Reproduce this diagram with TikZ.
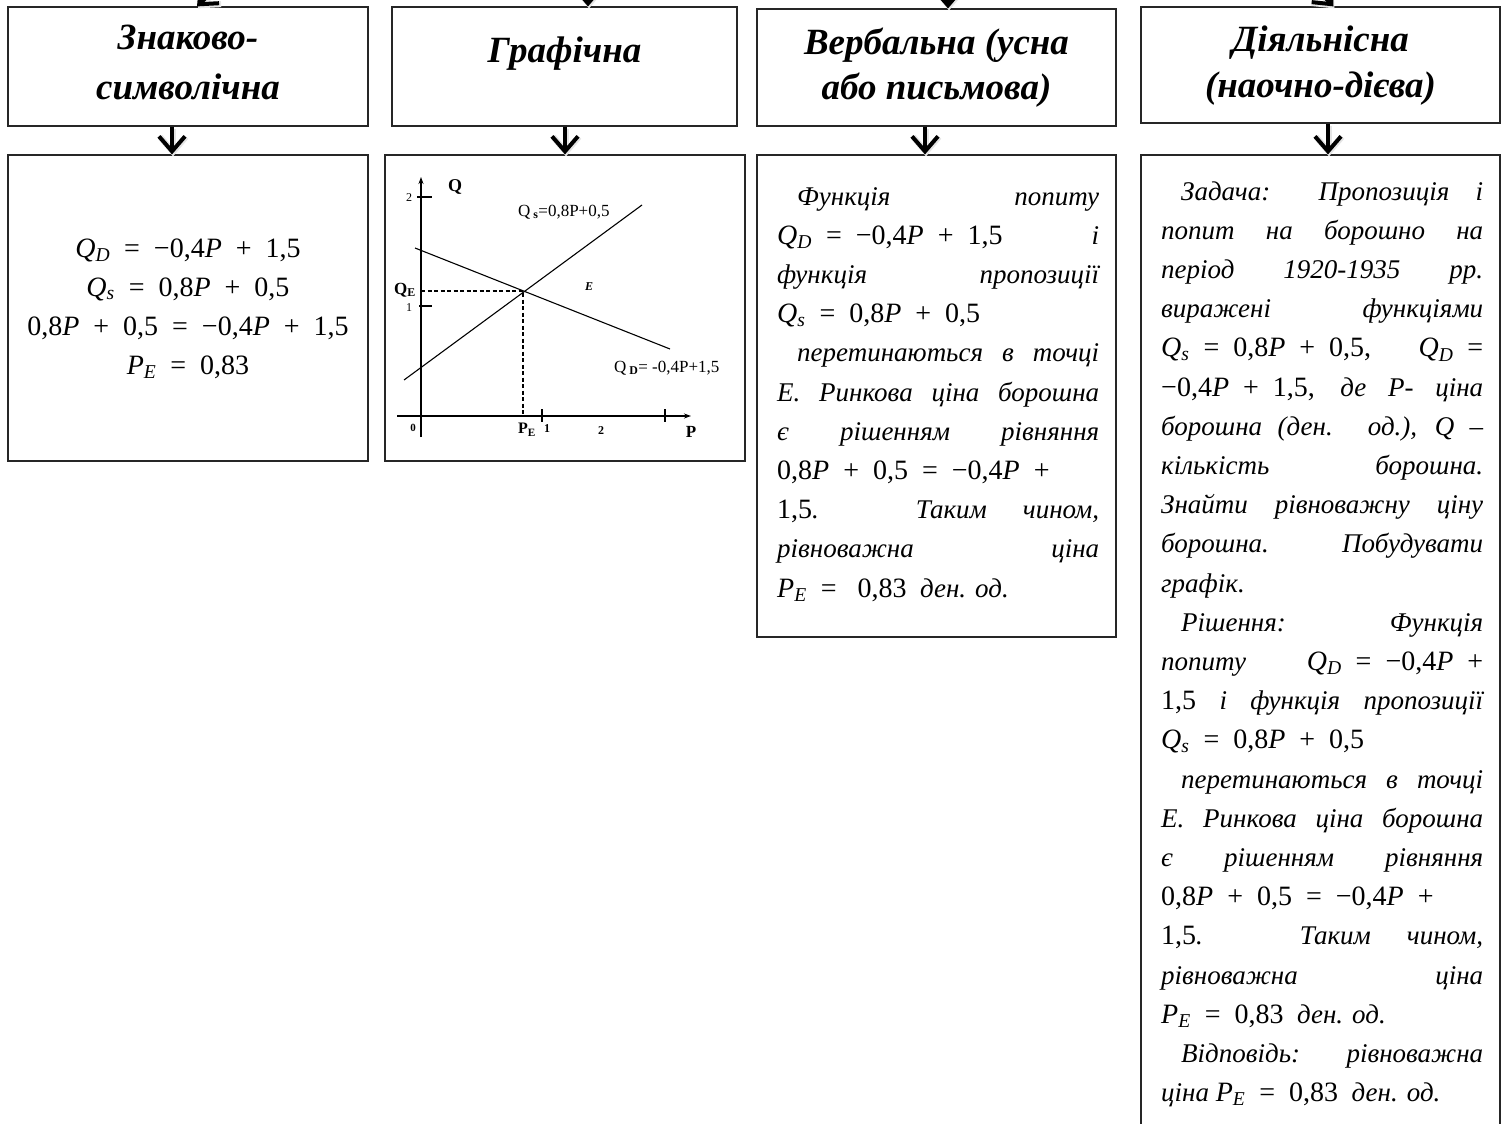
\documentclass[tikz,border=0pt]{standalone}
\usepackage{fontspec}
\setmainfont{Liberation Serif}
\usetikzlibrary{arrows.meta,calc}
\newcommand\LJ[1]{\hbox to\hsize{#1}}
\newcommand\LL[1]{\hbox to\hsize{#1\hfil}}
\newcommand\ID{\kern20pt\relax}
% math-like typesetting with the text font (Cambria-Math look)
\newcommand\mth[1]{{\fontsize{28pt}{39.2pt}\selectfont\upshape #1}}
\newcommand\mq[1]{\textit{#1}}
\newcommand\msub[1]{\textsubscript{\itshape #1}}
\newcommand\EQ{\hspace{0.5em}=\hspace{0.5em}}
\newcommand\EQR{\hspace{0.5em}=}
\newcommand\PL{\hspace{0.5em}+\hspace{0.5em}}
\newcommand\PLR{\hspace{0.5em}+}
\begin{document}
\begin{tikzpicture}[x=1pt,y=-1pt,
  box/.style={draw=black!85, line width=1.2pt, inner sep=0pt, rectangle},
  ttl/.style={inner sep=0pt, anchor=base, font=\fontsize{37pt}{#1}\selectfont\bfseries\itshape},
  ttl/.default=47pt,
  txt/.style={inner sep=0pt, anchor=base west, font=\fontsize{27pt}{39.2pt}\selectfont\itshape},
  arr/.style={line width=4pt, -{Straight Barb[length=15pt,width=26pt]},
    preaction={draw=black!10, line width=6pt, transform canvas={shift={(1pt,-2pt)}}}},
  gl/.style={line width=1.1pt},
  gt/.style={inner sep=0pt, font=\fontsize{#1}{#1}\selectfont},
  gt/.default=12pt
]
\useasboundingbox (0,0) rectangle (1510,1124);
\clip (0,0) rectangle (1510,1124);

% ---------- head boxes ----------
\node[box, minimum width=360pt, minimum height=119pt] (h1) at (188,66.5) {};
\node[box, minimum width=345pt, minimum height=119pt] (h2) at (564.5,66.5) {};
\node[box, minimum width=359pt, minimum height=117pt] (h3) at (936.5,67.5) {};
\node[box, minimum width=359pt, minimum height=116pt] (h4) at (1320.5,65) {};

\node[ttl=50pt] (h1t) at (188,50) {\parbox[t]{350pt}{\centering Знаково-\\символічна}};
\node[ttl] (h2t) at (564.5,63) {Графічна};
\node[ttl=45pt] (h3t) at (936.5,55) {\parbox[t]{350pt}{\centering Вербальна (усна\\або письмова)}};
\node[ttl=46pt] (h4t) at (1320.5,52) {\parbox[t]{350pt}{\centering Діяльнісна\\(наочно-дієва)}};

% ---------- content boxes ----------
\node[box, minimum width=360pt, minimum height=306pt] (b1) at (188,308) {};
\node[box, minimum width=360pt, minimum height=306pt] (b2) at (565,308) {};
\node[box, minimum width=359pt, minimum height=482pt] (b3) at (936.5,396) {};
\node[box, minimum width=359pt, minimum height=1000pt] (b4) at (1320.5,655) {};

% ---------- arrows between boxes ----------
\coordinate (a1s) at ([xshift=-16pt]h1.south);
\coordinate (a1e) at (a1s |- b1.north);
\coordinate (a2s) at ([xshift=0.5pt]h2.south);
\coordinate (a2e) at (a2s |- b2.north);
\coordinate (a3s) at ([xshift=-11.5pt]h3.south);
\coordinate (a3e) at (a3s |- b3.north);
\coordinate (a4s) at ([xshift=7.5pt]h4.south);
\coordinate (a4e) at (a4s |- b4.north);
\draw[arr] (a1s) -- (a1e);
\draw[arr] (a2s) -- (a2e);
\draw[arr] (a3s) -- (a3e);
\draw[arr] (a4s) -- (a4e);

% ---------- incoming arrows from above ----------
\coordinate (src1) at (245,-40);
\coordinate (src2) at (588,-40);
\coordinate (src3) at (948,-40);
\coordinate (src4) at (1290,-40);
\coordinate (in1) at ([xshift=9pt]h1.north);
\coordinate (in2) at ([xshift=23.5pt]h2.north);
\coordinate (in3) at ([xshift=11.5pt]h3.north);
\coordinate (in4) at ([xshift=13pt]h4.north);
\draw[arr] (src1) -- (in1);
\draw[arr] (src2) -- (in2);
\draw[arr] (src3) -- (in3);
\draw[arr] (src4) -- (in4);

% ---------- box 1: formulas ----------
\node[txt, anchor=base] (t1) at (188,257) {\parbox[t]{350pt}{\centering
\mth{\mq{Q}\msub{D}\EQ −0,4\mq{P}\PL 1,5}\\
\mth{\mq{Q}\msub{s}\EQ 0,8\mq{P}\PL 0,5}\\
\mth{0,8\mq{P}\PL 0,5\EQ −0,4\mq{P}\PL 1,5}\\
\mth{\mq{P}\msub{E}\EQ 0,83}}};

% ---------- box 2: graph ----------
\draw[gl, -{Stealth[length=7pt,width=5pt]}] (421,437) -- (421,177);
\draw[gl, -{Stealth[length=7pt,width=5pt]}] (397,416) -- (691,416);
\draw[gl] (417,197) -- (432,197);
\draw[gl] (419,306) -- (432,306);
\draw[gl] (542,409) -- (542,422);
\draw[gl] (665,409) -- (665,422);
\draw[gl] (404,380) -- (642,205);
\draw[gl] (415,248) -- (670,349);
\draw[gl, dash pattern=on 4pt off 2.5pt] (421,291) -- (523,291) -- (523,416);
\node[gt=12pt] (g2) at (409,198) {2};
\node[gt=12pt] (g1) at (409,308) {1};
\node[gt=18pt] (gq) at (455,187) {\textbf{Q}};
\node[gt=17pt, anchor=west] (gqe) at (394,290) {\textbf{Q}\textsubscript{\textbf{E}}};
\node[gt=12pt] (ge) at (589,287) {\textbf{\textit{E}}};
\node[gt=17pt, anchor=west] (gqs) at (518,212) {Q\,\textsubscript{\textbf{s}}=0,8P+0,5};
\node[gt=17pt, anchor=west] (gqd) at (614,368) {Q\,\textsubscript{\textbf{D}}= -0,4P+1,5};
\node[gt=11pt] (g0) at (413,428) {\textbf{0}};
\node[gt=16pt] (gpe) at (527,430) {\textbf{P}\textsubscript{\textbf{E}}};
\node[gt=12pt] (gx1) at (547,429) {\textbf{1}};
\node[gt=12pt] (gx2) at (601,431) {\textbf{2}};
\node[gt=17pt] (gp) at (691,432) {\textbf{P}};

% ---------- box 3: verbal ----------
\node[txt] (t3) at (777,205) {\parbox[t]{322pt}{%
\LJ{\ID Функція попиту}
\LJ{\mth{\mq{Q}\msub{D}\EQ −0,4\mq{P}\PL 1,5} і}
\LJ{функція пропозиції}
\LL{\mth{\mq{Q}\msub{s}\EQ 0,8\mq{P}\PL 0,5}}
\LJ{\ID перетинаються в точці}
\LJ{Е. Ринкова ціна борошна}
\LJ{є рішенням рівняння}
\LL{\mth{0,8\mq{P}\PL 0,5\EQ −0,4\mq{P}\PLR}}
\LJ{\mth{1,5}. Таким чином,}
\LJ{рівноважна ціна}
\LL{\mth{\mq{P}\msub{E}\EQ\hspace{0.25em}0,83}\enspace ден. од.}
}};

% ---------- box 4: activity ----------
\node[txt] (t4) at (1161,200) {\parbox[t]{322pt}{%
\LJ{\ID Задача: Пропозиція і}
\LJ{попит на борошно на}
\LJ{період 1920-1935 рр.}
\LJ{виражені функціями}
\LJ{\mth{\mq{Q}\msub{s}\EQ 0,8\mq{P}\PL 0,5,} \mth{\mq{Q}\msub{D}\EQR}}
\LJ{\mth{−0,4\mq{P}\PL 1,5,} де P- ціна}
\LJ{борошна (ден. од.), Q –}
\LJ{кількість борошна.}
\LJ{Знайти рівноважну ціну}
\LJ{борошна. Побудувати}
\LL{графік.}
\LJ{\ID Рішення: Функція}
\LJ{попиту \mth{\mq{Q}\msub{D}\EQ −0,4\mq{P}\PLR}}
\LJ{\mth{1,5} і функція пропозиції}
\LL{\mth{\mq{Q}\msub{s}\EQ 0,8\mq{P}\PL 0,5}}
\LJ{\ID перетинаються в точці}
\LJ{Е. Ринкова ціна борошна}
\LJ{є рішенням рівняння}
\LL{\mth{0,8\mq{P}\PL 0,5\EQ −0,4\mq{P}\PLR}}
\LJ{\mth{1,5}. Таким чином,}
\LJ{рівноважна ціна}
\LL{\mth{\mq{P}\msub{E}\EQ 0,83}\enspace ден. од.}
\LJ{\ID Відповідь: рівноважна}
\LL{ціна \mth{\mq{P}\msub{E}\EQ 0,83}\enspace ден. од.}
}};
\end{tikzpicture}
\end{document}
